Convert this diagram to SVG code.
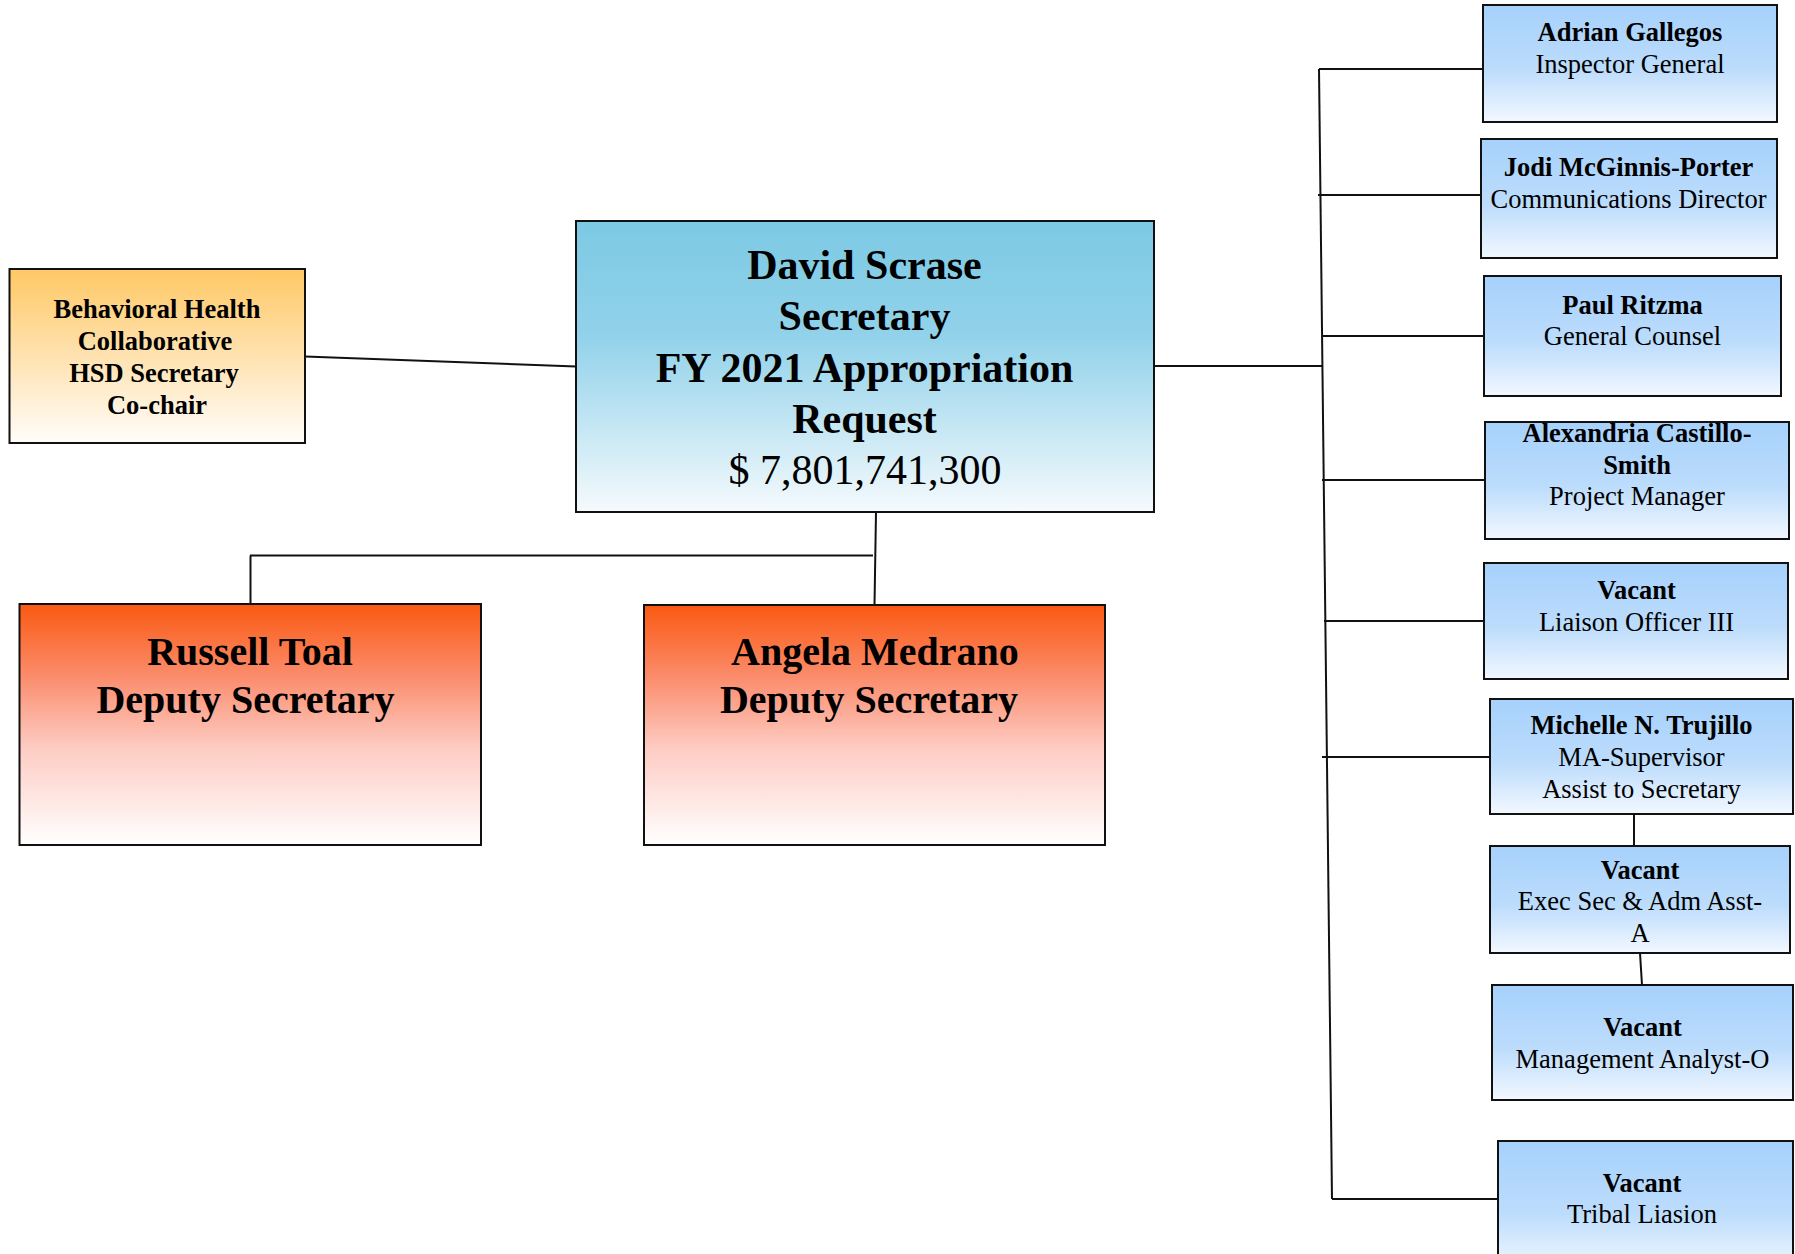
<svg xmlns="http://www.w3.org/2000/svg" width="1795" height="1254" viewBox="0 0 1795 1254">
<style>
  .box { stroke: #111; stroke-width: 2; }
  .blue { fill: url(#gBlue); }
  .sec { fill: url(#gSec); }
  .dep { fill: url(#gDep); }
  .bhc { fill: url(#gBhc); }
  text { font-family: "Liberation Serif", "Times New Roman", serif; fill: #000; text-anchor: middle; }
  .b { font-weight: bold; }
  .s26 { font-size: 26.5px; }
  .s42 { font-size: 42px; }
  .s40 { font-size: 40px; }
  .conn line, .conn polyline { stroke: #111; stroke-width: 2; fill: none; }
</style>
<defs>
  <linearGradient id="gBlue" x1="0" y1="0" x2="0" y2="1">
    <stop offset="0" stop-color="#A6D1FC"/>
    <stop offset="0.55" stop-color="#BCDCFC"/>
    <stop offset="1" stop-color="#F2F8FF"/>
  </linearGradient>
  <linearGradient id="gSec" x1="0" y1="0" x2="0" y2="1">
    <stop offset="0" stop-color="#7CC9E4"/>
    <stop offset="0.4" stop-color="#92D2EA"/>
    <stop offset="1" stop-color="#F5FAFD"/>
  </linearGradient>
  <linearGradient id="gDep" x1="0" y1="0" x2="0" y2="1">
    <stop offset="0" stop-color="#FA5911"/>
    <stop offset="0.3" stop-color="#FB8C6C"/>
    <stop offset="0.6" stop-color="#FDCCC4"/>
    <stop offset="1" stop-color="#FFFFFF"/>
  </linearGradient>
  <linearGradient id="gBhc" x1="0" y1="0" x2="0" y2="1">
    <stop offset="0" stop-color="#FEC865"/>
    <stop offset="0.5" stop-color="#FFE2B0"/>
    <stop offset="1" stop-color="#FFFDFA"/>
  </linearGradient>
</defs>
<rect width="1795" height="1254" fill="#FFFFFF"/>

<g class="conn" id="connectors">
  <line x1="305" y1="356.5" x2="576" y2="366.5"/>
  <line x1="1154" y1="366" x2="1322" y2="366"/>
  <line x1="1319" y1="69" x2="1332" y2="1199"/>
  <line x1="1319" y1="69" x2="1483" y2="69"/>
  <line x1="1318" y1="195" x2="1481" y2="195"/>
  <line x1="1322" y1="336" x2="1484" y2="336"/>
  <line x1="1322" y1="480" x2="1485" y2="480"/>
  <line x1="1324" y1="621" x2="1484" y2="621"/>
  <line x1="1322" y1="757" x2="1490" y2="757"/>
  <line x1="1332" y1="1199" x2="1498" y2="1199"/>
  <line x1="1634" y1="814" x2="1634" y2="846"/>
  <line x1="1640" y1="953" x2="1642" y2="985"/>
  <line x1="876" y1="512" x2="874.5" y2="605"/>
  <line x1="250" y1="555.5" x2="873" y2="555.5"/>
  <line x1="250.5" y1="555.5" x2="250.5" y2="604"/>
</g>

<g id="secretary">
  <rect class="box sec" x="576" y="221" width="578" height="291"/>
  <text class="b s42" x="864.5" y="279">David Scrase</text>
  <text class="b s42" x="864.5" y="330">Secretary</text>
  <text class="b s42" x="864.5" y="382">FY 2021 Appropriation</text>
  <text class="b s42" x="864.5" y="433">Request</text>
  <text class="s42" x="865" y="484">$ 7,801,741,300</text>
</g>

<g id="behavioral-health">
  <rect class="box bhc" x="9.5" y="269" width="295.5" height="174"/>
  <text class="b s26" x="157" y="318">Behavioral Health</text>
  <text class="b s26" x="155" y="350">Collaborative</text>
  <text class="b s26" x="154" y="382">HSD Secretary</text>
  <text class="b s26" x="157" y="414">Co-chair</text>
</g>

<g id="russell-toal">
  <rect class="box dep" x="19.5" y="604" width="461.5" height="241"/>
  <text class="b s40" x="250" y="665">Russell Toal</text>
  <text class="b s40" x="245.5" y="713">Deputy Secretary</text>
</g>

<g id="angela-medrano">
  <rect class="box dep" x="644" y="605" width="461" height="240"/>
  <text class="b s40" x="875" y="665">Angela Medrano</text>
  <text class="b s40" x="869" y="713">Deputy Secretary</text>
</g>

<g id="adrian-gallegos">
  <rect class="box blue" x="1483" y="5" width="294" height="117"/>
  <text class="b s26" x="1630" y="40.5">Adrian Gallegos</text>
  <text class="s26" x="1630" y="72.5">Inspector General</text>
</g>

<g id="jodi-mcginnis-porter">
  <rect class="box blue" x="1481" y="139" width="296" height="119"/>
  <text class="b s26" x="1628.5" y="175.5">Jodi McGinnis-Porter</text>
  <text class="s26" x="1628.5" y="207.5">Communications Director</text>
</g>

<g id="paul-ritzma">
  <rect class="box blue" x="1484" y="276" width="297" height="120"/>
  <text class="b s26" x="1632.5" y="313.5">Paul Ritzma</text>
  <text class="s26" x="1632.5" y="345">General Counsel</text>
</g>

<g id="alexandria-castillo-smith">
  <rect class="box blue" x="1485" y="422" width="304" height="117"/>
  <text class="b s26" x="1637" y="441.5">Alexandria Castillo-</text>
  <text class="b s26" x="1637" y="473.5">Smith</text>
  <text class="s26" x="1637" y="505">Project Manager</text>
</g>

<g id="vacant-liaison-officer">
  <rect class="box blue" x="1484" y="563" width="304" height="116"/>
  <text class="b s26" x="1636.5" y="599">Vacant</text>
  <text class="s26" x="1636.5" y="630.5">Liaison Officer III</text>
</g>

<g id="michelle-trujillo">
  <rect class="box blue" x="1490" y="699" width="303" height="115"/>
  <text class="b s26" x="1641.5" y="733.5">Michelle N. Trujillo</text>
  <text class="s26" x="1641.5" y="765.5">MA-Supervisor</text>
  <text class="s26" x="1641.5" y="797.5">Assist to Secretary</text>
</g>

<g id="vacant-exec-sec">
  <rect class="box blue" x="1490" y="846" width="300" height="107"/>
  <text class="b s26" x="1640" y="878.5">Vacant</text>
  <text class="s26" x="1640" y="910">Exec Sec &amp; Adm Asst-</text>
  <text class="s26" x="1640" y="941.5">A</text>
</g>

<g id="vacant-management-analyst">
  <rect class="box blue" x="1492" y="985" width="301" height="115"/>
  <text class="b s26" x="1642.5" y="1035.5">Vacant</text>
  <text class="s26" x="1642.5" y="1067.5">Management Analyst-O</text>
</g>

<g id="vacant-tribal-liaison">
  <rect class="box blue" x="1498" y="1141" width="295" height="130"/>
  <text class="b s26" x="1642" y="1191.5">Vacant</text>
  <text class="s26" x="1642" y="1223">Tribal Liasion</text>
</g>
</svg>
